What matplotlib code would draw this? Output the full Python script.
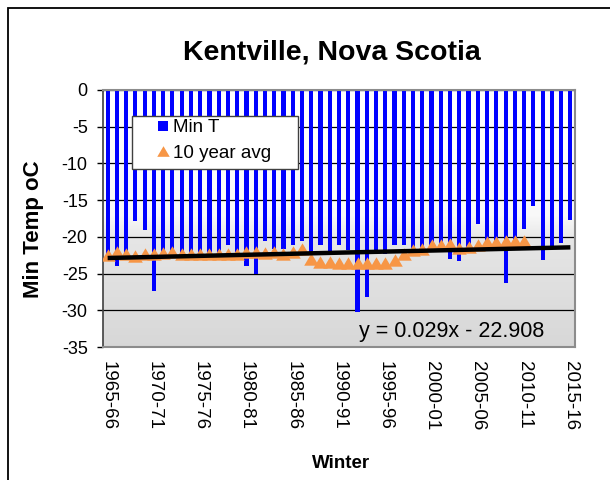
import numpy as np
import matplotlib
matplotlib.use("Agg")
import matplotlib.pyplot as plt
from matplotlib.patches import Rectangle
from matplotlib.lines import Line2D

plt.rcParams['font.family'] = ['Liberation Sans', 'DejaVu Sans']
plt.rcParams['axes.unicode_minus'] = False

# ---------------- data ----------------
winters = [f"{y}-{str(y + 1)[-2:]}" for y in range(1965, 2016)]
min_t = [
    -22.8, -24.0, -22.6, -17.9, -19.0, -27.4, -22.8, -22.6, -22.9, -22.7,
    -22.9, -22.8, -22.6, -21.1, -22.0, -24.0, -25.0, -20.6, -21.6, -21.6,
    -21.1, -20.6, -22.0, -21.1, -22.0, -21.1, -21.8, -30.2, -28.2, -22.3,
    -22.3, -21.1, -21.1, -21.6, -21.7, -21.3, -21.3, -23.0, -23.3, -21.5,
    -18.3, -20.8, -20.8, -26.3, -20.7, -18.9, -15.8, -23.1, -21.4, -20.8, -17.7,
]
avg10 = [
    -22.5, -22.0, -22.4, -22.6, -22.3, -22.4, -22.2, -22.0, -22.4, -22.3,
    -22.4, -22.3, -22.4, -22.4, -22.4, -22.1, -22.0, -22.2, -22.1, -22.4,
    -22.0, -21.7, -23.0, -23.4, -23.4, -23.5, -23.6, -23.6, -23.5, -23.6,
    -23.5, -23.2, -22.4, -21.8, -21.6, -21.1, -21.1, -21.0, -21.5, -21.4,
    -21.1, -20.7, -20.7, -20.6, -20.6, -20.5,
    np.nan, np.nan, np.nan, np.nan, np.nan,
]
trend_slope = 0.029
trend_intercept = -22.908
yticks = [0, -5, -10, -15, -20, -25, -30, -35]

# ---------------- figure ----------------
W, H = 610, 480
fig = plt.figure(figsize=(W / 100, H / 100), dpi=100)
fig.patch.set_facecolor('white')

def fx(px):
    return px / W

def fy(py):
    return 1 - py / H

ax = fig.add_axes([fx(103), fy(347), (575 - 103) / W, (347 - 90) / H])

n = len(winters)
x = np.arange(n)

# gradient background
yy = np.linspace(0, -35, 300)
g = np.interp(-yy, [0, 17, 20.5, 35], [1.0, 0.975, 0.9, 0.845])
img = np.repeat(g[:, None], 2, axis=1)
rgb = np.dstack([img, img, img])
ax.imshow(rgb, extent=[-0.5, n - 0.5, -35, 0], aspect='auto', zorder=0,
          interpolation='bilinear')

ax.bar(x, min_t, width=0.45, color='#0000FF', zorder=2)

tri = [(-1, -0.85), (1, -0.85), (0, 0.85)]
ax.plot(x, avg10, linestyle='none', marker=tri, markersize=10.5,
        color='#F79646', markeredgewidth=0, zorder=3)

tx = np.arange(1, n + 1)
ax.plot(x, trend_slope * tx + trend_intercept, color='black', lw=3.2,
        zorder=4, solid_capstyle='butt')

ax.set_xlim(-0.5, n - 0.5)
ax.set_ylim(-35, 0)
ax.set_yticks(yticks)
ax.set_yticklabels([str(v) for v in yticks], fontsize=13)
ax.set_xticks(x[::5])
ax.set_xticklabels([winters[i] for i in range(0, n, 5)], rotation=270,
                   fontsize=13.5, va='top', ha='center')
ax.tick_params(axis='x', length=0, pad=10)
ax.tick_params(axis='y', length=4, width=1, pad=7, direction='out')

ax.set_axisbelow(True)
ax.yaxis.grid(True, color='black', lw=0.9)
for s in ['top', 'right', 'bottom']:
    ax.spines[s].set_color('#8c8c8c')
    ax.spines[s].set_linewidth(1.5)
ax.spines['left'].set_color('#404040')
ax.spines['left'].set_linewidth(1.2)

# legend box + legend
ax.add_patch(Rectangle((fx(131.7), fy(169.3)), (298.3 - 131.7) / W,
                       (169.3 - 116) / H, transform=fig.transFigure,
                       facecolor='white', edgecolor='#404040', lw=1,
                       zorder=5, clip_on=False))
handles = [
    Line2D([], [], linestyle='none', marker='s', markersize=7.5,
           color='#0000FF', markeredgewidth=0),
    Line2D([], [], linestyle='none', marker=tri, markersize=9,
           color='#F79646', markeredgewidth=0),
]
leg = ax.legend(handles, ['Min T', '10 year avg'], loc='upper left',
                bbox_to_anchor=((155.5 - 103) / 472, (347 - 119) / 257),
                frameon=False, fontsize=13.5, borderpad=0, borderaxespad=0,
                handlelength=0.8, handletextpad=0.15, labelspacing=0.45)
leg.set_zorder(6)

fig.text(fx(452), fy(332), 'y = 0.029x - 22.908', fontsize=15.5,
         ha='center', va='center', zorder=10)

fig.text(fx(332), fy(53), 'Kentville, Nova Scotia', fontsize=20.5,
         fontweight='bold', ha='center', va='center')
fig.text(fx(33), fy(229), 'Min Temp oC', fontsize=16, fontweight='bold',
         rotation=90, ha='center', va='center')
fig.text(fx(341), fy(463), 'Winter', fontsize=13.5, fontweight='bold',
         ha='center', va='center')

# outer chart border
fig.patches.append(Rectangle((fx(8), fy(482)), (W - 8 + 5) / W, (482 - 8) / H,
                             transform=fig.transFigure, fill=False,
                             edgecolor='black', lw=1.3))

fig.savefig('out.png', dpi=100)
